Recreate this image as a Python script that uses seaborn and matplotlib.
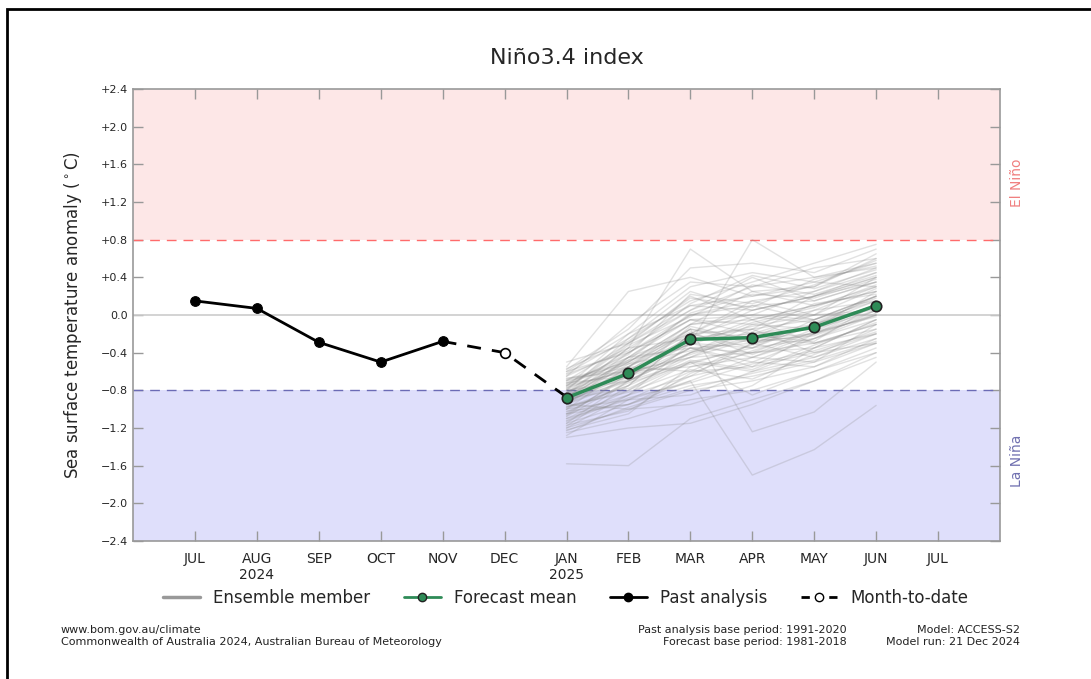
import matplotlib
matplotlib.use("Agg")
import numpy as np
import pandas as pd
import matplotlib.pyplot as plt
import seaborn as sns
from matplotlib.lines import Line2D
from matplotlib.patches import Rectangle

# month axis: 0 = JUL 2024 ... 12 = JUL 2025
month_labels = ["JUL", "AUG\n2024", "SEP", "OCT", "NOV", "DEC", "JAN\n2025",
                "FEB", "MAR", "APR", "MAY", "JUN", "JUL"]

past_months = [0, 1, 2, 3, 4]
past_values = [0.15, 0.07, -0.29, -0.50, -0.28]

mtd_months = [4, 5, 6]
mtd_values = [-0.28, -0.40, -0.87]

fc_months = [6, 7, 8, 9, 10, 11]
fc_mean = [-0.88, -0.62, -0.26, -0.24, -0.13, 0.10]

# ensemble members, JAN..JUN
ensemble = [
    [-0.85, -0.55, -0.20, -0.15, -0.05, 0.20],
    [-0.95, -0.70, -0.35, -0.30, -0.20, 0.05],
    [-0.70, -0.30, 0.10, 0.05, 0.20, 0.40],
    [-1.10, -0.90, -0.60, -0.55, -0.40, -0.20],
    [-0.60, -0.20, 0.30, 0.45, 0.35, 0.55],
    [-1.20, -1.00, -0.80, -0.70, -0.55, -0.30],
    [-0.80, -0.45, -0.05, -0.10, 0.05, 0.30],
    [-1.00, -0.75, -0.45, -0.40, -0.30, -0.10],
    [-0.55, 0.25, 0.40, 0.20, 0.30, 0.60],
    [-0.90, -0.65, -0.25, -0.20, -0.15, 0.10],
    [-1.58, -1.60, -1.10, -0.90, -0.70, -0.45],
    [-0.75, -0.40, 0.00, 0.10, 0.15, 0.35],
    [-1.05, -0.85, -0.50, -0.60, -0.35, -0.05],
    [-0.65, -0.35, 0.70, 0.25, 0.10, 0.25],
    [-0.88, -0.60, -0.30, 0.80, 0.40, 0.50],
    [-1.15, -0.95, -0.70, -1.70, -1.43, -0.96],
    [-0.82, -0.50, -0.15, -1.24, -1.03, -0.50],
    [-0.95, -0.55, -0.10, 0.00, -0.05, 0.15],
    [-1.25, -1.10, -0.90, -0.80, -0.60, -0.35],
    [-0.72, -0.45, -0.20, 0.15, 0.25, 0.45],
    [-0.98, -0.80, -0.40, -0.25, -0.30, -0.15],
    [-0.62, -0.25, 0.15, 0.35, 0.55, 0.75],
    [-1.08, -0.70, -0.35, -0.50, -0.25, 0.00],
    [-0.85, -0.60, -0.55, -0.45, -0.20, 0.10],
    [-0.78, -0.30, 0.20, -0.05, 0.10, 0.30],
    [-1.30, -1.20, -1.15, -0.95, -0.70, -0.40],
    [-0.92, -0.65, -0.30, -0.35, -0.10, 0.20],
    [-0.68, -0.50, -0.10, 0.25, 0.30, 0.65],
    [-1.12, -0.85, -0.65, -0.30, -0.45, -0.25],
    [-0.88, -0.40, -0.05, -0.20, 0.00, 0.05],
    [-0.58, -0.15, 0.50, 0.55, 0.45, 0.70],
    [-1.02, -0.95, -0.75, -0.65, -0.50, -0.10],
    [-0.80, -0.70, -0.40, -0.10, -0.15, 0.25],
    [-1.18, -0.75, -0.20, -0.35, -0.25, 0.05],
    [-0.70, -0.55, -0.25, 0.05, 0.20, 0.40],
    [-0.95, -1.00, -0.95, -0.75, -0.35, -0.20],
    [-0.85, -0.35, 0.05, 0.40, 0.15, 0.35],
    [-1.05, -0.65, -0.45, -0.15, -0.40, -0.30],
    [-0.75, -0.60, -0.15, -0.25, 0.05, 0.15],
    [-0.90, -0.45, -0.35, -0.55, -0.20, 0.00],
    [-0.65, -0.10, 0.35, 0.30, 0.50, 0.60],
    [-1.22, -1.05, -0.55, -0.40, -0.35, -0.05],
    [-0.98, -0.75, -0.20, 0.10, -0.05, 0.20],
    [-0.82, -0.55, -0.60, -0.30, -0.10, 0.10],
    [-1.10, -0.80, -0.50, -0.85, -0.60, -0.40],
    [-0.60, -0.40, -0.05, 0.00, 0.25, 0.50],
    [-0.93, -0.60, -0.30, -0.45, -0.25, -0.05],
    [-0.76, -0.20, 0.10, 0.20, 0.35, 0.30],
    [-1.00, -0.90, -0.85, -0.60, -0.45, -0.20],
    [-0.87, -0.50, -0.10, -0.05, 0.10, 0.25],
    [-1.15, -0.70, -0.40, -0.20, -0.10, 0.15],
    [-0.72, -0.65, -0.35, -0.40, -0.15, 0.05],
    [-0.95, -0.45, 0.00, 0.15, 0.00, 0.40],
    [-1.05, -0.95, -0.65, -0.50, -0.55, -0.25],
    [-0.83, -0.35, -0.25, -0.15, 0.20, 0.35],
    [-0.67, -0.60, -0.45, -0.25, -0.20, 0.00],
    [-1.20, -0.85, -0.30, -0.05, -0.30, -0.10],
    [-0.90, -0.70, -0.50, -0.35, -0.05, 0.20],
    [-0.80, -0.25, 0.25, 0.05, 0.20, 0.45],
    [-1.00, -0.55, -0.15, -0.30, -0.10, 0.10],
    [-0.50, -0.30, 0.05, 0.30, 0.40, 0.55],
    [-1.28, -0.90, -0.70, -0.45, -0.50, -0.30],
    [-0.77, -0.58, -0.28, -0.12, 0.00, 0.28],
    [-0.97, -0.82, -0.58, -0.68, -0.42, -0.15],
    [-0.63, -0.38, 0.12, 0.42, 0.28, 0.48],
    [-1.07, -0.62, -0.42, -0.22, -0.28, 0.12],
    [-0.89, -0.78, -0.48, -0.58, -0.32, -0.08],
    [-0.73, -0.42, 0.22, 0.12, 0.32, 0.58],
    [-1.17, -1.02, -0.62, -0.38, -0.18, -0.02],
    [-0.84, -0.48, -0.32, -0.08, 0.08, 0.32],
    [-0.94, -0.68, -0.12, -0.28, -0.22, 0.02],
    [-0.69, -0.52, -0.38, -0.18, 0.12, 0.22],
    [-1.13, -0.88, -0.72, -0.52, -0.38, -0.18],
    [-0.79, -0.32, -0.02, 0.32, 0.22, 0.42],
    [-1.03, -0.72, -0.52, -0.32, -0.12, 0.08],
    [-0.86, -0.62, -0.22, -0.02, -0.08, 0.18],
    [-0.57, -0.28, 0.18, 0.08, 0.38, 0.52],
    [-1.23, -0.98, -0.78, -0.62, -0.48, -0.28],
    [-0.91, -0.52, -0.18, -0.42, -0.18, 0.12],
    [-0.74, -0.48, 0.02, 0.22, 0.18, 0.38],
]

sns.set_theme(style="white")
plt.rcParams["font.family"] = ["DejaVu Sans"]

ens_df = pd.DataFrame(
    [(i, m, v) for i, row in enumerate(ensemble) for m, v in zip(fc_months, row)],
    columns=["member", "month", "anom"],
)
past_df = pd.DataFrame({"month": past_months, "anom": past_values})
mtd_df = pd.DataFrame({"month": mtd_months, "anom": mtd_values})
fc_df = pd.DataFrame({"month": fc_months, "anom": fc_mean})

fig = plt.figure(figsize=(10.91, 6.79), dpi=100)
ax = fig.add_axes([133 / 1091, 1 - 541 / 679, 867 / 1091, 452 / 679])

green = "#2e8b57"
ax.axhspan(0.8, 2.4, color="#fde7e7", zorder=0, lw=0)
ax.axhspan(-2.4, -0.8, color="#dfdffb", zorder=0, lw=0)
ax.axhline(0.8, color="#ff6b6b", ls=(0, (7, 5)), lw=1.0, zorder=1)
ax.axhline(-0.8, color="#6b6bb5", ls=(0, (7, 5)), lw=1.0, zorder=1)
ax.axhline(0.0, color="#cccccc", lw=1.2, zorder=1)

sns.lineplot(data=ens_df, x="month", y="anom", units="member", estimator=None,
             color="#8a8a8a", alpha=0.25, lw=1.0, ax=ax, zorder=2, legend=False)
sns.lineplot(data=mtd_df, x="month", y="anom", color="black", lw=2,
             dashes=False, ax=ax, zorder=3, legend=False)
ax.lines[-1].set_linestyle((0, (5, 4)))
ax.plot([5], [mtd_values[1]], "o", mfc="white", mec="black", mew=1.2, ms=7, zorder=5)
sns.lineplot(data=past_df, x="month", y="anom", color="black", lw=2,
             marker="o", markersize=7, markeredgecolor="black", ax=ax, zorder=4, legend=False)
sns.lineplot(data=fc_df, x="month", y="anom", color=green, lw=2.5,
             marker="o", markersize=7.5, markerfacecolor=green, markeredgecolor="#222222",
             markeredgewidth=1.2, ax=ax, zorder=6, legend=False)

ax.set_xlim(-1, 13)
ax.set_ylim(-2.4, 2.4)
ax.set_xticks(range(13))
ax.set_xticklabels(month_labels, fontsize=10)
yt = np.round(np.arange(-2.4, 2.41, 0.4), 1)
ax.set_yticks(yt)
ax.set_yticklabels([f"+{v:.1f}" if v > 0 else ("0.0" if v == 0 else f"\u2212{abs(v):.1f}") for v in yt],
                   fontsize=8)
ax.tick_params(axis="both", direction="in", length=7, color="#999999", width=1,
               top=True, right=True, bottom=True, left=True)
ax.tick_params(axis="x", pad=8)
for s in ax.spines.values():
    s.set_color("#999999")
    s.set_linewidth(1.2)
ax.set_xlabel("")
ax.set_ylabel("Sea surface temperature anomaly ($^\\circ$C)", fontsize=12, labelpad=12)
ax.set_title("Niño3.4 index", fontsize=16, pad=18)

ax.text(13.27, 1.4, "El Niño", rotation=90, color="#f08080", fontsize=10,
        ha="center", va="center")
ax.text(13.27, -1.55, "La Niña", rotation=90, color="#7070b0", fontsize=10,
        ha="center", va="center")

handles = [
    Line2D([], [], color="#999999", lw=2.5),
    Line2D([], [], color=green, lw=2, marker="o", mfc=green, mec="#222222", ms=6),
    Line2D([], [], color="black", lw=2, marker="o", mfc="black", mec="black", ms=6),
    Line2D([], [], color="black", lw=2, ls=(0, (3, 2)), marker="o", mfc="white", mec="black", ms=6,
           markevery=[1]),
]
labels = ["Ensemble member", "Forecast mean", "Past analysis", "Month-to-date"]
fig.legend(handles, labels, loc="center", bbox_to_anchor=(566 / 1091, 1 - 598 / 679),
           ncol=4, frameon=False, fontsize=12, handlelength=2.2, columnspacing=2.0)

fs = 8
fig.text(61 / 1091, 1 - 630 / 679, "www.bom.gov.au/climate", fontsize=fs, va="center", color="#222222")
fig.text(61 / 1091, 1 - 642 / 679, "Commonwealth of Australia 2024, Australian Bureau of Meteorology",
         fontsize=fs, va="center", color="#222222")
fig.text(847 / 1091, 1 - 630 / 679, "Past analysis base period: 1991-2020", fontsize=fs,
         ha="right", va="center", color="#222222")
fig.text(847 / 1091, 1 - 642 / 679, "Forecast base period: 1981-2018", fontsize=fs,
         ha="right", va="center", color="#222222")
fig.text(1020 / 1091, 1 - 630 / 679, "Model: ACCESS-S2", fontsize=fs,
         ha="right", va="center", color="#222222")
fig.text(1020 / 1091, 1 - 642 / 679, "Model run: 21 Dec 2024", fontsize=fs,
         ha="right", va="center", color="#222222")

fig.patches.append(Rectangle((7 / 1091, -0.1), 1.2, 1.1 - 9 / 679, transform=fig.transFigure,
                             fill=False, edgecolor="black", lw=2, zorder=10))

fig.savefig("out.png", dpi=100)
